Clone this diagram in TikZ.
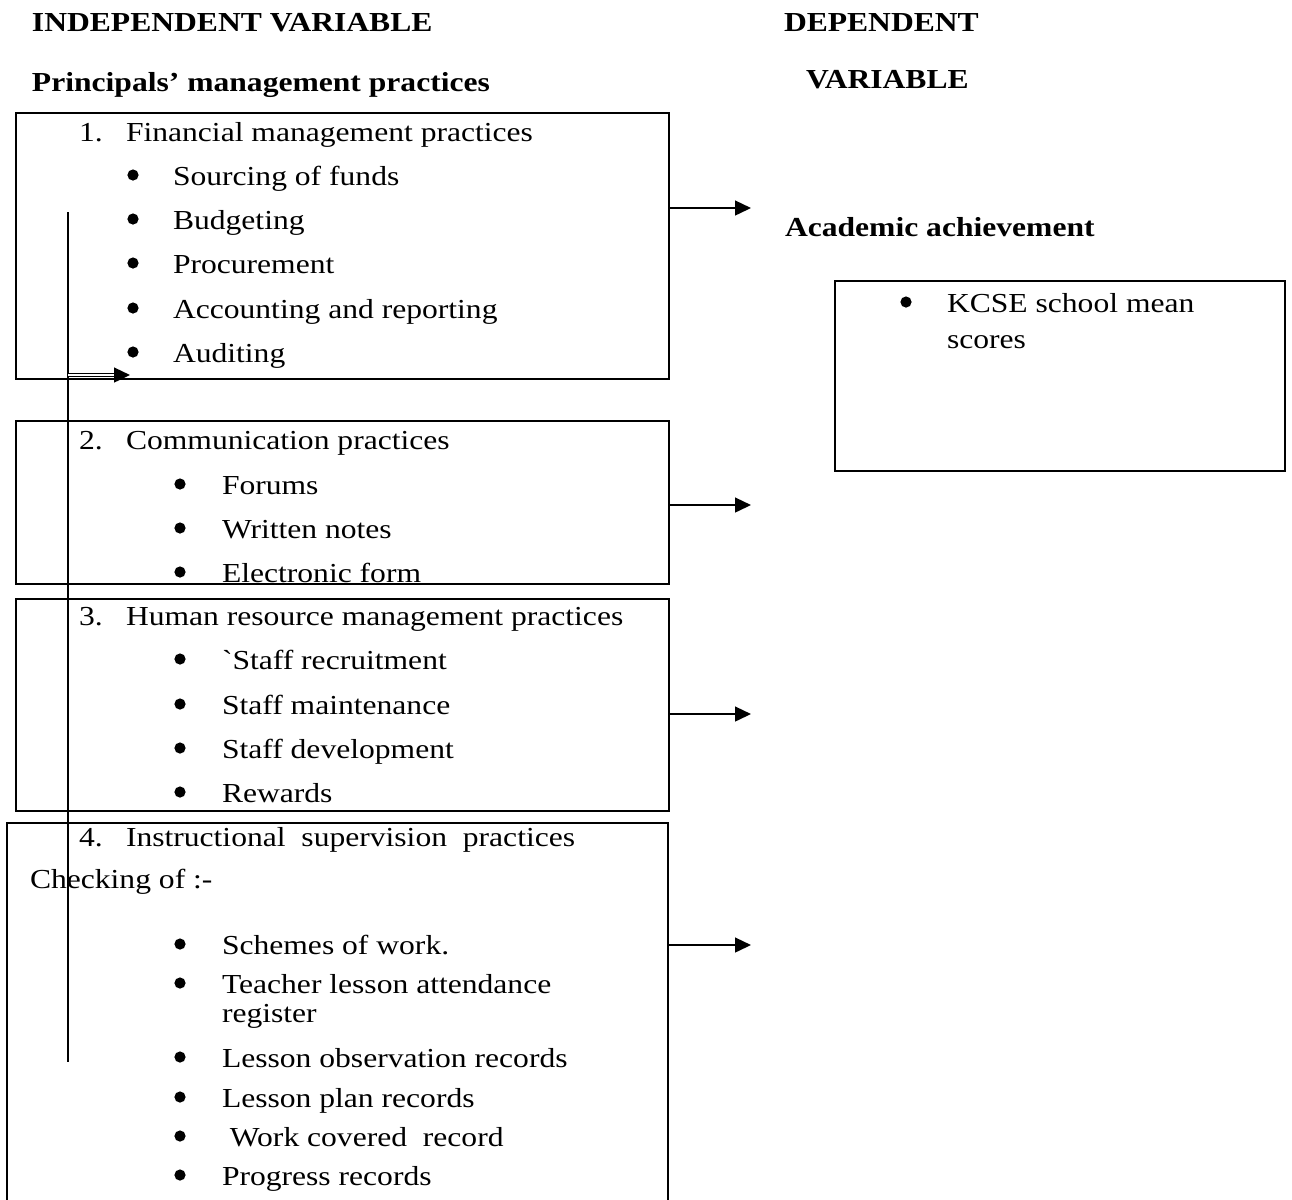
\documentclass[tikz,border=0pt]{standalone}
\usepackage{fontspec}
\setmainfont[FakeStretch=1.15,Ligatures=TeXOff]{Liberation Serif}
\usetikzlibrary{arrows.meta}
\begin{document}
\begin{tikzpicture}[x=0.375pt,y=-0.375pt,
  every node/.style={inner sep=0pt,outer sep=0pt,anchor=base west,font=\fontsize{10.3pt}{12pt}\selectfont},
  hd/.style={font=\fontsize{10.3pt}{12pt}\selectfont\bfseries},
  boxnode/.style={draw,line width=0.75pt,anchor=north west,rectangle},
  arr/.style={line width=0.6pt,-{Triangle[length=6pt,width=5.6pt]}},
  vline/.style={line width=0.6pt},
  dot/.style={fill=black}]
\useasboundingbox (0,0) rectangle (1292,1199);
% headings
\node[hd] (h1) at (32,31) {INDEPENDENT VARIABLE};
\node[hd] (h2) at (32,91) {Principals’ management practices};
\node[hd] (h3) at (784,31) {DEPENDENT};
\node[hd] (h4) at (806,88) {VARIABLE};
\node[hd] (h5) at (785,236) {Academic achievement};
% boxes
\node[boxnode,minimum width=244.9pt,minimum height=99.75pt] (b1) at (16,113) {};
\node[boxnode,minimum width=244.9pt,minimum height=61.1pt] (b2) at (16,421) {};
\node[boxnode,minimum width=244.9pt,minimum height=79.5pt] (b3) at (16,599) {};
\node[boxnode,minimum width=247.9pt,minimum height=147pt] (b4) at (7,823) {};
\node[boxnode,minimum width=168.75pt,minimum height=71.25pt] (kb) at (835,281) {};
% box 1
\node (n1) at (79,141) {1.};
\node (t1) at (126,141) {Financial management practices};
\foreach \y/\t [count=\i] in {185/Sourcing of funds,229/Budgeting,273/Procurement,318/Accounting and reporting,362/Auditing}{
  \fill[dot] (133,\y-10) circle[radius=2.1pt];
  \node (t1\i) at (173,\y) {\t};
}
% box 2
\node (n2) at (79,449) {2.};
\node (t2) at (126,449) {Communication practices};
\foreach \y/\t [count=\i] in {494/Forums,538/Written notes,582/Electronic form}{
  \fill[dot] (180,\y-10) circle[radius=2.1pt];
  \node (t2\i) at (222,\y) {\t};
}
% box 3
\node (n3) at (79,625) {3.};
\node (t3) at (126,625) {Human resource management practices};
\foreach \y/\t [count=\i] in {669/`Staff recruitment,714/Staff maintenance,758/Staff development,802/Rewards}{
  \fill[dot] (180,\y-10) circle[radius=2.1pt];
  \node (t3\i) at (222,\y) {\t};
}
% box 4
\node (n4) at (79,846) {4.};
\node (t4) at (126,846) {Instructional\ \ supervision\ \ practices};
\node (ck) at (30,888) {Checking of :-};
\foreach \y/\t [count=\i] in {954/Schemes of work.,993/Teacher lesson attendance,1067/Lesson observation records,1107/Lesson plan records,1146/\ Work covered\ \ record,1185/Progress records}{
  \fill[dot] (180,\y-10) circle[radius=2.1pt];
  \node (t4\i) at (222,\y) {\t};
}
\node (reg) at (222,1022) {register};
% KCSE box
\fill[dot] (906,302) circle[radius=2.1pt];
\node (k1) at (947,312) {KCSE school mean};
\node (k2) at (947,348) {scores};
% right arrows
\coordinate (e1) at (751,208);
\coordinate (e2) at (751,505);
\coordinate (e3) at (751,714);
\coordinate (e4) at (751,945);
\draw[arr] (b1.east |- e1) -- (e1);
\draw[arr] (b2.east |- e2) -- (e2);
\draw[arr] (b3.east |- e3) -- (e3);
\draw[arr] (b4.east |- e4) -- (e4);
% vertical line and inner arrow
\coordinate (vt) at (68,212);
\coordinate (vb) at (68,1062);
\draw[vline] (vt) -- (vb);
\coordinate (ia) at (68,375);
\coordinate (ib) at (130,375);
\coordinate (ih) at (115,375);
\draw[line width=0.45pt,double,double distance=0.9pt] (ia) -- (ih);
\draw[arr] (ih) -- (ib);
\end{tikzpicture}
\end{document}
